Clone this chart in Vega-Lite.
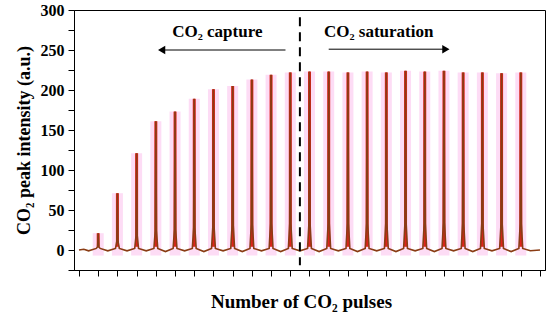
{
  "$schema": "https://vega.github.io/schema/vega-lite/v6.json",
  "width": 471,
  "height": 260,
  "autosize": "none",
  "padding": {"left": 74, "top": 10, "right": 5, "bottom": 52},
  "background": "white",
  "config": {
    "view": {"stroke": "black", "strokeWidth": 1},
    "font": "Liberation Serif",
    "axis": {"grid": false, "domainColor": "black", "tickColor": "black", "labelColor": "black", "titleColor": "black", "labelFont": "Liberation Serif", "titleFont": "Liberation Serif", "labelFontWeight": "bold", "titleFontWeight": "bold", "labelFontSize": 16, "titleFontSize": 18, "tickSize": 6, "labelOverlap": false}
  },
  "datasets": {
    "peaks": [
      {"x": 1, "h": 21}, {"x": 2, "h": 71}, {"x": 3, "h": 121}, {"x": 4, "h": 161}, {"x": 5, "h": 173},
      {"x": 6, "h": 189}, {"x": 7, "h": 201}, {"x": 8, "h": 205}, {"x": 9, "h": 213}, {"x": 10, "h": 219},
      {"x": 11, "h": 222}, {"x": 12, "h": 223}, {"x": 13, "h": 223}, {"x": 14, "h": 222}, {"x": 15, "h": 223},
      {"x": 16, "h": 222}, {"x": 17, "h": 224}, {"x": 18, "h": 223}, {"x": 19, "h": 224}, {"x": 20, "h": 222},
      {"x": 21, "h": 222}, {"x": 22, "h": 221}, {"x": 23, "h": 222}
    ],
    "trace": [
      {"x": 0, "y": 0}, {"x": 0.25, "y": 1}, {"x": 0.5, "y": -1},
      {"x": 0.9, "y": 2}, {"x": 0.97, "y": 4}, {"x": 1, "y": 21}, {"x": 1.03, "y": 4}, {"x": 1.1, "y": 2}, {"x": 1.5, "y": -1},
      {"x": 1.9, "y": 2}, {"x": 1.97, "y": 11}, {"x": 2, "y": 71}, {"x": 2.03, "y": 11}, {"x": 2.1, "y": 2}, {"x": 2.5, "y": -1},
      {"x": 2.9, "y": 2}, {"x": 2.97, "y": 18}, {"x": 3, "y": 121}, {"x": 3.03, "y": 18}, {"x": 3.1, "y": 2}, {"x": 3.5, "y": -1},
      {"x": 3.9, "y": 2}, {"x": 3.97, "y": 24}, {"x": 4, "y": 161}, {"x": 4.03, "y": 24}, {"x": 4.1, "y": 2}, {"x": 4.5, "y": -2},
      {"x": 4.9, "y": 2}, {"x": 4.97, "y": 26}, {"x": 5, "y": 173}, {"x": 5.03, "y": 26}, {"x": 5.1, "y": 2}, {"x": 5.5, "y": -1},
      {"x": 5.9, "y": 2}, {"x": 5.97, "y": 28}, {"x": 6, "y": 189}, {"x": 6.03, "y": 28}, {"x": 6.1, "y": 2}, {"x": 6.5, "y": -2},
      {"x": 6.9, "y": 2}, {"x": 6.97, "y": 30}, {"x": 7, "y": 201}, {"x": 7.03, "y": 30}, {"x": 7.1, "y": 2}, {"x": 7.5, "y": -1},
      {"x": 7.9, "y": 2}, {"x": 7.97, "y": 31}, {"x": 8, "y": 205}, {"x": 8.03, "y": 31}, {"x": 8.1, "y": 2}, {"x": 8.5, "y": -2},
      {"x": 8.9, "y": 2}, {"x": 8.97, "y": 32}, {"x": 9, "y": 213}, {"x": 9.03, "y": 32}, {"x": 9.1, "y": 2}, {"x": 9.5, "y": -1},
      {"x": 9.9, "y": 2}, {"x": 9.97, "y": 33}, {"x": 10, "y": 219}, {"x": 10.03, "y": 33}, {"x": 10.1, "y": 2}, {"x": 10.5, "y": -2},
      {"x": 10.9, "y": 2}, {"x": 10.97, "y": 33}, {"x": 11, "y": 222}, {"x": 11.03, "y": 33}, {"x": 11.1, "y": 2}, {"x": 11.5, "y": -1},
      {"x": 11.9, "y": 2}, {"x": 11.97, "y": 33}, {"x": 12, "y": 223}, {"x": 12.03, "y": 33}, {"x": 12.1, "y": 2}, {"x": 12.5, "y": -2},
      {"x": 12.9, "y": 2}, {"x": 12.97, "y": 33}, {"x": 13, "y": 223}, {"x": 13.03, "y": 33}, {"x": 13.1, "y": 2}, {"x": 13.5, "y": -1},
      {"x": 13.9, "y": 2}, {"x": 13.97, "y": 33}, {"x": 14, "y": 222}, {"x": 14.03, "y": 33}, {"x": 14.1, "y": 2}, {"x": 14.5, "y": -2},
      {"x": 14.9, "y": 2}, {"x": 14.97, "y": 33}, {"x": 15, "y": 223}, {"x": 15.03, "y": 33}, {"x": 15.1, "y": 2}, {"x": 15.5, "y": -1},
      {"x": 15.9, "y": 2}, {"x": 15.97, "y": 33}, {"x": 16, "y": 222}, {"x": 16.03, "y": 33}, {"x": 16.1, "y": 2}, {"x": 16.5, "y": -2},
      {"x": 16.9, "y": 2}, {"x": 16.97, "y": 34}, {"x": 17, "y": 224}, {"x": 17.03, "y": 34}, {"x": 17.1, "y": 2}, {"x": 17.5, "y": -1},
      {"x": 17.9, "y": 2}, {"x": 17.97, "y": 33}, {"x": 18, "y": 223}, {"x": 18.03, "y": 33}, {"x": 18.1, "y": 2}, {"x": 18.5, "y": -2},
      {"x": 18.9, "y": 2}, {"x": 18.97, "y": 34}, {"x": 19, "y": 224}, {"x": 19.03, "y": 34}, {"x": 19.1, "y": 2}, {"x": 19.5, "y": -1},
      {"x": 19.9, "y": 2}, {"x": 19.97, "y": 33}, {"x": 20, "y": 222}, {"x": 20.03, "y": 33}, {"x": 20.1, "y": 2}, {"x": 20.5, "y": -2},
      {"x": 20.9, "y": 2}, {"x": 20.97, "y": 33}, {"x": 21, "y": 222}, {"x": 21.03, "y": 33}, {"x": 21.1, "y": 2}, {"x": 21.5, "y": -1},
      {"x": 21.9, "y": 2}, {"x": 21.97, "y": 33}, {"x": 22, "y": 221}, {"x": 22.03, "y": 33}, {"x": 22.1, "y": 2}, {"x": 22.5, "y": -2},
      {"x": 22.9, "y": 2}, {"x": 22.97, "y": 33}, {"x": 23, "y": 222}, {"x": 23.03, "y": 33}, {"x": 23.1, "y": 2}, {"x": 23.5, "y": -1},
      {"x": 24, "y": 0}
    ]
  },
  "encoding": {
    "x": {"type": "quantitative", "scale": {"domain": [0, 24], "nice": false, "zero": false},
      "axis": {"values": [0,1,2,3,4,5,6,7,8,9,10,11,12,13,14,15,16,17,18,19,20,21,22,23,24], "labels": false, "title": "Number of CO₂ pulses", "titlePadding": 16, "titleFontSize": 19, "titleX": 227, "titleAlign": "center"}},
    "y": {"type": "quantitative", "scale": {"domain": [-25, 300], "nice": false, "zero": false},
      "axis": {"values": [-25,0,25,50,75,100,125,150,175,200,225,250,275,300], "labelExpr": "datum.value >= 0 && datum.value % 50 == 0 ? datum.label : ''", "title": "CO₂ peak intensity (a.u.)", "titlePadding": 7, "labelPadding": 4}}
  },
  "layer": [
    {
      "data": {"name": "peaks"},
      "mark": {"type": "bar", "width": 11, "color": "#fddcf5"},
      "encoding": {
        "x": {"field": "x", "type": "quantitative"},
        "y": {"field": "h", "type": "quantitative"},
        "y2": {"datum": -7}
      }
    },
    {
      "data": {"name": "peaks"},
      "mark": {"type": "rule", "color": "#e0231b", "strokeWidth": 3},
      "encoding": {
        "x": {"field": "x", "type": "quantitative"},
        "y": {"field": "h", "type": "quantitative"},
        "y2": {"datum": 4}
      }
    },
    {
      "data": {"name": "trace"},
      "mark": {"type": "line", "color": "#8a3c14", "strokeWidth": 1.6},
      "encoding": {
        "x": {"field": "x", "type": "quantitative"},
        "y": {"field": "y", "type": "quantitative"}
      }
    },
    {
      "data": {"values": [{}]},
      "mark": {"type": "rule", "color": "black", "strokeWidth": 2, "strokeDash": [9, 6]},
      "encoding": {"x": {"datum": 11.5}, "y": {"datum": 291}, "y2": {"datum": -19}}
    },
    {
      "data": {"values": [{}]},
      "mark": {"type": "rule", "color": "black", "strokeWidth": 1},
      "encoding": {"x": {"datum": 4.4}, "x2": {"datum": 10.75}, "y": {"datum": 250}}
    },
    {
      "data": {"values": [{}]},
      "mark": {"type": "point", "shape": "triangle-left", "filled": true, "color": "black", "size": 70, "opacity": 1},
      "encoding": {"x": {"datum": 4.3}, "y": {"datum": 250}}
    },
    {
      "data": {"values": [{}]},
      "mark": {"type": "rule", "color": "black", "strokeWidth": 1},
      "encoding": {"x": {"datum": 13.0}, "x2": {"datum": 19.0}, "y": {"datum": 251}}
    },
    {
      "data": {"values": [{}]},
      "mark": {"type": "point", "shape": "triangle-right", "filled": true, "color": "black", "size": 70, "opacity": 1},
      "encoding": {"x": {"datum": 19.1}, "y": {"datum": 251}}
    },
    {
      "data": {"values": [{}]},
      "mark": {"type": "text", "font": "Liberation Serif", "fontWeight": "bold", "fontSize": 17, "color": "black"},
      "encoding": {"x": {"datum": 7.2}, "y": {"datum": 273}, "text": {"value": "CO₂ capture"}}
    },
    {
      "data": {"values": [{}]},
      "mark": {"type": "text", "font": "Liberation Serif", "fontWeight": "bold", "fontSize": 17, "color": "black"},
      "encoding": {"x": {"datum": 15.6}, "y": {"datum": 273}, "text": {"value": "CO₂ saturation"}}
    }
  ]
}
